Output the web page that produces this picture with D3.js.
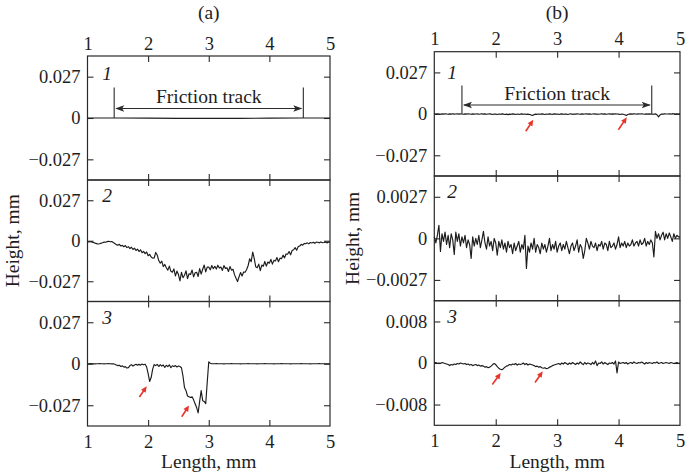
<!DOCTYPE html>
<html><head><meta charset="utf-8">
<script src="https://cdn.jsdelivr.net/npm/d3@7"></script>
<style>
body{margin:0;background:#fff}
svg text{font-family:"Liberation Serif","Times New Roman",serif;fill:#1e1e1e}
</style>
</head><body>
<svg id="c" width="685" height="473"></svg>
<script>
// ---------- data (heights in µm, lengths in mm) ----------
const lengthMm = [
1,1.025,1.05,1.075,1.1,1.125,1.15,1.175,1.2,1.225,1.25,1.275,1.3,1.325,1.35,1.375,1.4,1.425,1.45,1.475,
1.5,1.525,1.55,1.575,1.6,1.625,1.65,1.675,1.7,1.725,1.75,1.775,1.8,1.825,1.85,1.875,1.9,1.925,1.95,1.975,
2,2.025,2.05,2.075,2.1,2.125,2.15,2.175,2.2,2.225,2.25,2.275,2.3,2.325,2.35,2.375,2.4,2.425,2.45,2.475,
2.5,2.525,2.55,2.575,2.6,2.625,2.65,2.675,2.7,2.725,2.75,2.775,2.8,2.825,2.85,2.875,2.9,2.925,2.95,2.975,
3,3.025,3.05,3.075,3.1,3.125,3.15,3.175,3.2,3.225,3.25,3.275,3.3,3.325,3.35,3.375,3.4,3.425,3.45,3.475,
3.5,3.525,3.55,3.575,3.6,3.625,3.65,3.675,3.7,3.725,3.75,3.775,3.8,3.825,3.85,3.875,3.9,3.925,3.95,3.975,
4,4.025,4.05,4.075,4.1,4.125,4.15,4.175,4.2,4.225,4.25,4.275,4.3,4.325,4.35,4.375,4.4,4.425,4.45,4.475,
4.5,4.525,4.55,4.575,4.6,4.625,4.65,4.675,4.7,4.725,4.75,4.775,4.8,4.825,4.85,4.875,4.9,4.925,4.95,4.975,
5];

const lengthCoarse = [1,1.5,2,2.5,3,3.5,4,4.5,5];
const heightA1 = [0,0,-0.1,-0.2,-0.2,-0.2,-0.1,0,0];

const heightA2 = [
-0.6,-0.8,-0.5,-0.9, -1.2,-1.6,-1.9,-2.2, -2.0,-1.6,-1.3,-0.9, -1.0,-0.6,-0.3,-0.7, -0.5,-1.2,-1.8,-2.6,
-3.0,-2.4,-3.5,-3.1, -4.0,-3.2,-4.6,-3.9, -5.2,-4.3,-5.8,-4.9, -6.5,-5.6,-7.2,-6.0, -8.0,-7.1,-8.6,-7.5,
-10.0,-9.1,-10.8,-11.6, -11.5,-7.8,-9.5,-13.2, -15.0,-13.6,-17.2,-15.8, -18.0,-19.6,-16.9,-20.4, -21.0,-18.8,-23.5,-20.2,
-22.5,-26.8,-21.0,-24.6, -23.0,-20.1,-25.2,-22.0, -22.5,-19.5,-24.1,-21.3, -21.0,-23.8,-18.6,-22.2, -19.0,-16.2,-20.8,-17.6,
-17.5,-19.4,-16.5,-18.6, -17.0,-18.9,-16.3,-18.2, -17.5,-19.8,-16.6,-18.4, -18.0,-20.5,-17.2,-19.6, -19.0,-22.6,-25.0,-27.2,
-24.0,-21.2,-23.5,-20.8, -21.0,-19.2,-16.5,-12.0, -14.0,-7.5,-11.8,-17.4, -18.0,-15.6,-19.9,-16.2, -17.0,-13.8,-16.9,-14.2,
-15.0,-12.4,-15.6,-13.1, -13.5,-11.2,-14.0,-11.6, -12.0,-9.6,-11.4,-8.8, -9.0,-7.2,-9.4,-6.5, -6.0,-4.6,-6.3,-3.9,
-3.5,-2.4,-3.0,-1.8, -2.0,-1.4,-2.1,-1.2, -1.5,-1.0,-1.7,-0.9, -1.0,-1.4,-0.8,-1.3, -1.2,-0.9,-1.4,-1.0,
-1.0];

const heightA3 = [
0,0,0.1,0, 0,-0.1,0,0, 0.1,0,0,-0.1, 0,0,0.1,0, -0.1,0,-0.3,-0.8,
-1.2,-1.0,-1.8,-1.4, -2.2,-1.9,-2.8,-2.5, -1.2,-0.6,-1.5,-0.8, -0.3,-1.0,-0.4,-0.9, -0.2,-0.7,-0.3,-2.0,
-6.5,-11.5,-9.0,-3.5, -0.5,-1.2,-0.4,-1.8, -0.6,-1.5,-0.8,-2.4, -1.0,-1.9,-0.7,-2.6, -1.3,-1.8,-1.2,-2.1,
-1.5,-1.8,-2.6,-8.0, -15.5,-17.5,-21.0,-21.5, -22.0,-21.5,-23.5,-26.0, -28.5,-32.0,-24.5,-17.5, -24.0,-24.5,-26.0,-12.0,
1.2,0.3,0,0, 0,0.1,0,0, 0,0,-0.1,0, 0,0,0,0.1, 0,0,0,0,
0,-0.1,0,0, 0,0,0.1,0, 0,0,0,0, -0.1,0,0,0, 0,0.1,0,0,
0,0,0,-0.1, 0,0,0,0, 0.1,0,0,0, 0,0,-0.1,0, 0,0,0,0,
0,0.1,0,0, 0,0,0,-0.1, 0,0,0,0, 0,0.1,0,0, 0,0,0,0,
0];

const heightB1 = [
0.1,-0.2,0.0,-0.1, -0.3,0.0,-0.2,0.1, -0.1,-0.3,0.0,-0.2, 0.1,-0.2,-0.1,0.0, -0.2,0.0,-0.1,-0.3,
0.0,-0.2,0.1,-0.1, -0.3,0.0,-0.2,-0.1, 0.0,-0.3,-0.1,0.1, -0.2,0.0,-0.3,-0.1, 0.0,-0.2,-0.4,-0.1,
-0.2,-0.4,-0.1,-0.3, 0.0,-0.2,-0.4,-0.2, -0.5,-0.2,-0.3,0.0, -0.2,-0.4,-0.1,-0.3, -0.2,0.0,-0.3,-0.1,
-0.3,-0.2,-0.4,-0.7, -1.1,-0.5,-0.2,-0.3, -0.1,-0.3,0.0,-0.2, -0.4,-0.1,-0.3,0.0, -0.2,-0.3,0.0,-0.2,
-0.1,-0.3,-0.2,0.0, -0.3,-0.1,-0.2,-0.4, -0.1,0.0,-0.3,-0.2, -0.2,0.0,-0.1,-0.3, 0.0,-0.2,-0.1,0.1,
-0.2,0.0,-0.3,-0.1, 0.0,-0.2,-0.1,-0.3, -0.1,0.1,-0.2,0.0, -0.3,-0.1,0.0,-0.2, 0.0,-0.2,0.1,-0.1,
-0.2,-0.4,-0.1,-0.3, -0.6,-1.0,-0.4,-0.2, 0.0,-0.2,0.1,-0.1, -0.2,0.0,-0.1,0.1, -0.1,-0.3,0.0,-0.2,
0.0,-0.2,-0.1,-0.3, 0.0,-0.6,-2.0,-0.7, -0.1,-0.2,0.1,-0.1, -0.1,0.0,-0.2,0.1, 0.0,-0.1,0.0,-0.1,
0.0];

const heightB2 = [
0.1,-0.3,0.2,0.85, -0.85,0.3,-0.2,0.4, -0.4,0.2,-0.6,0.3, -0.1,-1.05,0.4,-0.2, 0.3,-0.5,0.1,-0.3,
0.2,-0.6,-0.1,-0.4, -1.3,0.1,-0.5,0.0, -0.4,0.2,-0.6,-0.1, 0.45,-0.3,-0.7,0.1, -0.5,-0.2,-0.8,0.0,
-0.3,-1.1,-0.2,-0.6, -0.1,-0.7,-0.3,-0.9, -0.2,-0.6,-0.4,-1.0, -0.3,-0.8,-0.5,-0.2, -0.9,-0.4,-0.7,0.2,
-1.95,-0.5,-0.9,-0.3, -0.7,0.0,-0.9,-0.4, -0.6,-1.0,-0.3,-0.7, -0.4,-0.9,-0.5,0.0, -0.8,-0.4,-0.7,-0.2,
-0.9,-0.5,-0.3,-0.8, -0.4,-0.7,-0.2,-0.6, -1.0,-0.5,-0.3,-0.8, -0.5,-0.1,-0.9,-0.4, -0.6,-1.3,-0.8,0.0,
-0.3,-0.7,-0.2,-0.5, -0.6,-0.3,-0.8,-0.4, -0.5,-0.2,-0.7,-0.3, -0.4,-0.8,-0.2,-0.6, -0.5,-0.3,-0.7,-0.4,
0.1,-0.6,-0.3,-0.5, -0.2,-0.6,-0.3,-0.5, -0.4,-0.1,-0.5,-0.3, -0.2,-0.5,-0.1,-0.4, -0.3,0.0,-0.5,-0.2,
-0.4,-0.1,-0.3,-1.2, 0.45,0.0,0.3,-0.1, 0.2,0.4,-0.1,0.3, 0.0,0.35,0.1,-0.2, 0.3,0.0,0.2,0.1,
0.1];

const heightB3 = [
0.0,0.1,-0.1,0.0, -0.1,0.1,0.0,-0.1, -0.2,-0.3,-0.5,-0.3, -0.4,-0.2,-0.3,-0.1, -0.2,0.0,-0.1,-0.2,
-0.1,-0.3,-0.2,-0.4, -0.3,-0.5,-0.4,-0.3, -0.5,-0.4,-0.6,-0.5, -0.6,-0.8,-0.7,-0.9, -0.8,-0.6,-0.3,-0.1,
-0.3,-0.7,-1.0,-1.2, -1.3,-1.1,-0.8,-0.6, -0.5,-0.3,-0.4,-0.2, -0.3,-0.1,-0.4,-0.2, -0.3,-0.2,0.0,-0.3,
-0.1,-0.4,-0.2,-0.3, -0.4,-0.5,-0.7,-0.6, -0.8,-0.7,-0.9,-1.0, -0.9,-1.1,-1.0,-0.8, -0.7,-0.5,-0.4,-0.3,
-0.2,-0.1,-0.3,0.0, -0.2,0.1,-0.1,-0.3, 0.0,-0.2,0.1,-0.1, -0.3,0.0,-0.2,0.2, -0.1,-0.3,0.1,-0.2,
0.0,-0.1,-0.3,0.1, -0.2,0.4,-0.5,0.0, -0.1,0.2,-0.2,0.1, -0.1,-0.3,0.0,-0.1, 0.1,-0.2,0.4,-1.9,
0.2,-0.1,0.0,0.1, -0.1,0.1,-0.2,0.0, 0.1,-0.1,0.2,0.0, -0.1,0.1,0.0,0.2, 0.0,-0.2,0.1,-0.1,
0.1,0.0,-0.1,0.1, 0.0,0.2,-0.1,0.0, 0.1,-0.1,0.0,0.1, 0.0,-0.1,0.1,0.0, -0.1,0.0,0.1,-0.1,
0.0];

const xTicks = [1, 2, 3, 4, 5];
const yTicks027 = [27, 0, -27];
const yLabels027 = ["0.027", "0", "\u22120.027"];
const yTicks0027 = [2.7, 0, -2.7];
const yLabels0027 = ["0.0027", "0", "\u22120.0027"];
const yTicks008 = [8, 0, -8];
const yLabels008 = ["0.008", "0", "\u22120.008"];

// friction track [start, end] (mm), marker top, arrow level, label level (µm)
const trackA = [1.44, 4.56], trackLevelsA = [20, 6.2, 13.8];
const trackB = [1.45, 4.54], trackLevelsB = [18.4, 5.8, 13.0];

// red arrows: [tailX, tailY, tipX, tipY] in data units
const arrowsA3 = [[1.856, -21.6, 1.977, -14.7], [2.554, -34.5, 2.675, -27.2]];
const arrowsB1 = [[2.489, -11.3, 2.612, -3.9], [3.997, -10.4, 4.134, -2.2]];
const arrowsB3 = [[1.945, -4.15, 2.081, -1.92], [2.64, -3.77, 2.765, -1.6]];

// ---------- layout ----------
const svg = d3.select("#c");
const TICK_FS = 18.5, LABEL_FS = 19.5;
const lineColor = "#1c1c1c", red = "#e8352c";

const panels = [
  { title: "(a)", x0: 87.5, x1: 330, rows: [56, 180, 301.5, 426], hLabelX: 12, numDX: 19.5,
    subs: [
      { xs: lengthCoarse, ys: heightA1, ticks: yTicks027, labels: yLabels027, num: "1", track: trackA, trackLevels: trackLevelsA, arrows: arrowsB1.slice(0,0), numDY: 17 },
      { xs: lengthMm, ys: heightA2, ticks: yTicks027, labels: yLabels027, num: "2", numDY: 15 },
      { xs: lengthMm, ys: heightA3, ticks: yTicks027, labels: yLabels027, num: "3", arrows: arrowsA3, numDY: 16 }
    ]},
  { title: "(b)", x0: 434.3, x1: 680, rows: [51.7, 176, 300.7, 425.3], hLabelX: 352, numDX: 17.7,
    subs: [
      { xs: lengthMm, ys: heightB1, ticks: yTicks027, labels: yLabels027, num: "1", track: trackB, trackLevels: trackLevelsB, arrows: arrowsB1, numDY: 20.5 },
      { xs: lengthMm, ys: heightB2, ticks: yTicks0027, labels: yLabels0027, num: "2", numDY: 15.7 },
      { xs: lengthMm, ys: heightB3, ticks: yTicks008, labels: yLabels008, num: "3", arrows: arrowsB3, numDY: 16 }
    ]}
];

function drawRedArrow(g, x1, y1, x2, y2) {
  const dx = x2 - x1, dy = y2 - y1, L = Math.hypot(dx, dy);
  const ux = dx / L, uy = dy / L, hl = 6, hw = 2.8;
  const bx = x2 - ux * hl, by = y2 - uy * hl;
  g.append("line").attr("x1", x1).attr("y1", y1).attr("x2", bx + ux).attr("y2", by + uy)
    .attr("stroke", red).attr("stroke-width", 1.6);
  g.append("path")
    .attr("d", `M${x2},${y2}L${bx - uy * hw},${by + ux * hw}L${bx + uy * hw},${by - ux * hw}Z`)
    .attr("fill", red);
}

panels.forEach(p => {
  const x = d3.scaleLinear().domain([1, 5]).range([p.x0, p.x1]);
  const pg = svg.append("g");

  pg.append("text").attr("x", (p.x0 + p.x1) / 2).attr("y", 18.5)
    .attr("text-anchor", "middle").attr("font-size", LABEL_FS).text(p.title);

  p.subs.forEach((s, i) => {
    const top = p.rows[i], bot = p.rows[i + 1];
    const t = s.ticks[0];
    const y = d3.scaleLinear().domain([-1.5 * t, 1.5 * t]).range([bot, top]);
    const g = pg.append("g");

    // axes (inside ticks)
    const fmt = d => s.labels[s.ticks.indexOf(d)];
    const aL = g.append("g").attr("transform", `translate(${p.x0},0)`)
      .call(d3.axisLeft(y).tickValues(s.ticks).tickFormat(fmt).tickSizeInner(-6).tickSizeOuter(0).tickPadding(7));
    const aR = g.append("g").attr("transform", `translate(${p.x1},0)`)
      .call(d3.axisRight(y).tickValues(s.ticks).tickFormat("").tickSizeInner(-6).tickSizeOuter(0));
    const aT = g.append("g").attr("transform", `translate(0,${top})`)
      .call(d3.axisTop(x).tickValues(xTicks).tickFormat(i === 0 ? d3.format("d") : "").tickSizeInner(-6).tickSizeOuter(0).tickPadding(6.5));
    const aB = g.append("g").attr("transform", `translate(0,${bot})`)
      .call(d3.axisBottom(x).tickValues(xTicks).tickFormat(i === 2 ? d3.format("d") : "").tickSizeInner(-6).tickSizeOuter(0).tickPadding(9));
    [aL, aR, aT, aB].forEach(a => {
      a.select(".domain").remove();
      a.selectAll("line").attr("stroke", "#2a2a2a").attr("stroke-width", 1.1);
      a.selectAll("text").attr("font-size", TICK_FS).attr("font-family", "Liberation Serif, Times New Roman, serif").attr("fill", "#1e1e1e");
    });
    // hide the end ticks at x=1 and x=5 (they coincide with the frame)
    [aT, aB].forEach(a => a.selectAll(".tick line").filter(d => d === 1 || d === 5).remove());

    // frame
    g.append("rect").attr("x", p.x0).attr("y", top).attr("width", p.x1 - p.x0).attr("height", bot - top)
      .attr("fill", "none").attr("stroke", "#2a2a2a").attr("stroke-width", 1.2);

    // profile line
    const line = d3.line().x((d, k) => x(s.xs[k])).y(d => y(d));
    g.append("path").datum(s.ys).attr("d", line).attr("fill", "none")
      .attr("stroke", lineColor).attr("stroke-width", 1.15).attr("stroke-linejoin", "round");

    // curve number
    g.append("text").attr("x", p.x0 + p.numDX).attr("y", top + s.numDY + 6.5)
      .attr("text-anchor", "middle").attr("font-size", LABEL_FS).attr("font-style", "italic").text(s.num);

    // friction track
    if (s.track) {
      const [xa, xb] = s.track.map(x);
      const [lvTop, lvArrow, lvText] = s.trackLevels;
      [xa, xb].forEach(xx => g.append("line").attr("x1", xx).attr("x2", xx)
        .attr("y1", y(lvTop)).attr("y2", y(0)).attr("stroke", "#2a2a2a").attr("stroke-width", 1.1));
      const ya = y(lvArrow);
      g.append("line").attr("x1", xa + 2).attr("x2", xb - 2).attr("y1", ya).attr("y2", ya)
        .attr("stroke", "#2a2a2a").attr("stroke-width", 1.1);
      g.append("path").attr("d", `M${xa + 1},${ya}L${xa + 10},${ya - 3.2}L${xa + 8},${ya}L${xa + 10},${ya + 3.2}Z`).attr("fill", "#2a2a2a");
      g.append("path").attr("d", `M${xb - 1},${ya}L${xb - 10},${ya - 3.2}L${xb - 8},${ya}L${xb - 10},${ya + 3.2}Z`).attr("fill", "#2a2a2a");
      g.append("text").attr("x", x(3)).attr("y", y(lvText) + 6.5).attr("text-anchor", "middle")
        .attr("font-size", LABEL_FS).text("Friction track");
    }

    // red arrows
    (s.arrows || []).forEach(a => drawRedArrow(g, x(a[0]), y(a[1]), x(a[2]), y(a[3])));

    if (i === 1) {
      pg.append("text").attr("transform", `translate(${p.hLabelX + 6.5},${(top + bot) / 2}) rotate(-90)`)
        .attr("text-anchor", "middle").attr("font-size", LABEL_FS).text("Height, mm");
    }
  });

  pg.append("text").attr("x", (p.x0 + p.x1) / 2).attr("y", 468)
    .attr("text-anchor", "middle").attr("font-size", LABEL_FS).text("Length, mm");
});
</script>
</body></html>
